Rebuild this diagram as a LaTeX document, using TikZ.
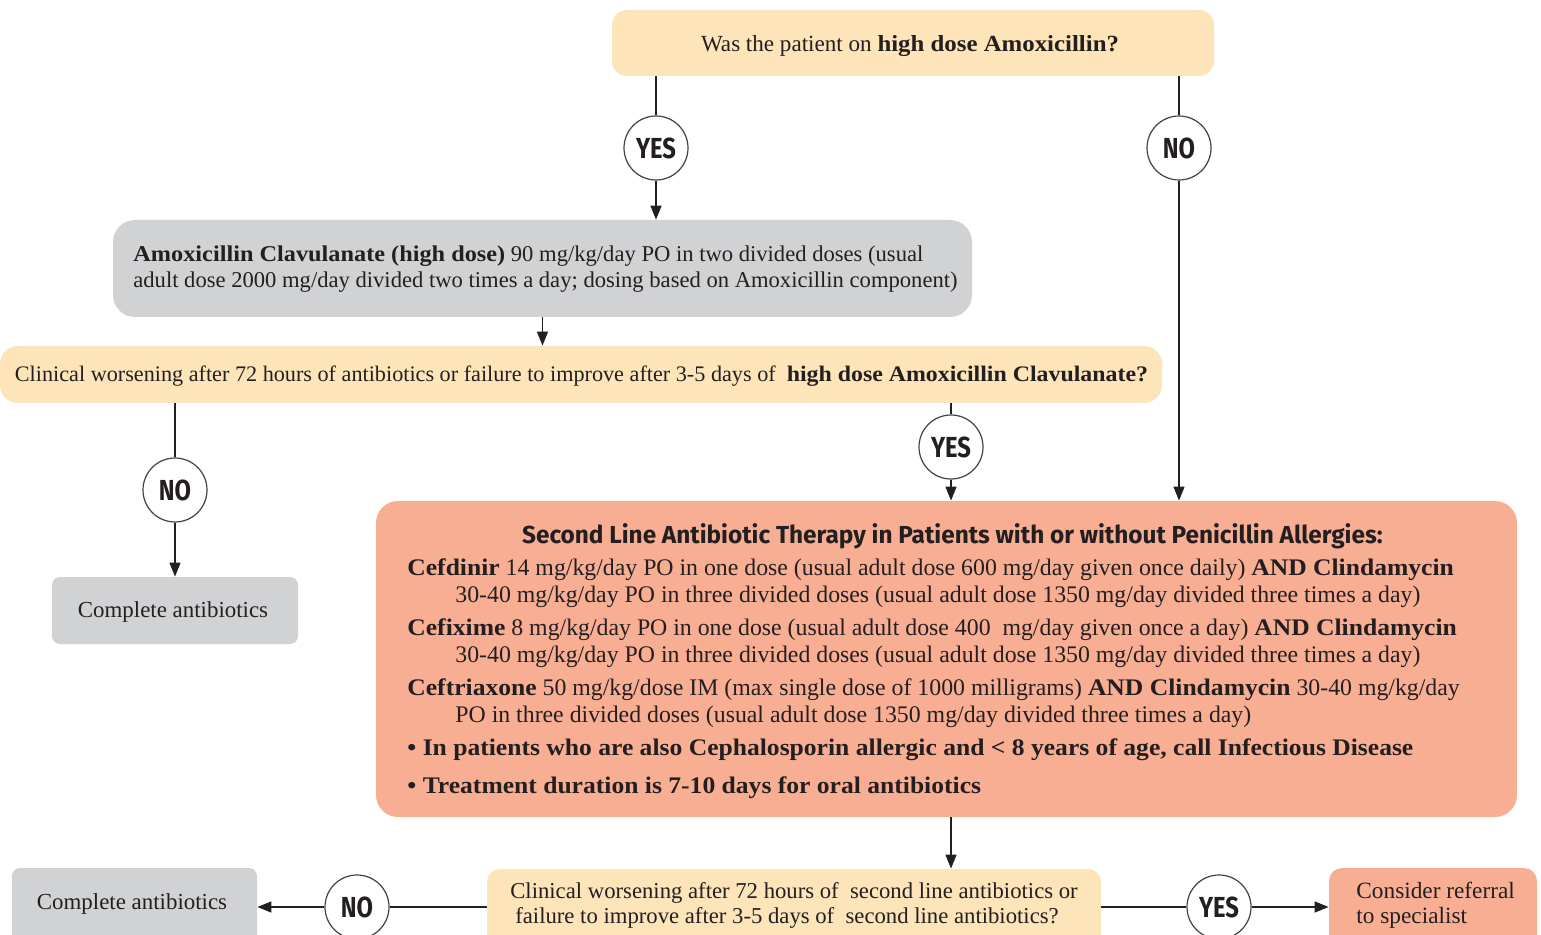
\documentclass[tikz,border=0pt]{standalone}
\usepackage{fontspec}
\setmainfont{Liberation Serif}[BoldFeatures={FakeStretch=1.075}]
\newfontfamily\ynfont[FakeStretch=0.82]{Fira Sans}
\newfontfamily\ttlfont[FakeStretch=0.99]{Fira Sans}
\usetikzlibrary{arrows.meta}
\definecolor{yel}{RGB}{253,228,185}
\definecolor{gry}{RGB}{209,210,212}
\definecolor{sal}{RGB}{248,174,147}
\definecolor{ink}{RGB}{35,31,32}
\newcommand{\fs}[2]{\fontsize{#1}{#2}\selectfont}
\begin{document}
\begin{tikzpicture}[x=0.5pt,y=-0.5pt,
  box/.style={inner sep=0pt, text=ink, font=\fs{12}{13}},
  ybox/.style={box, fill=yel},
  gbox/.style={box, fill=gry},
  sbox/.style={box, fill=sal},
  txt/.style={inner sep=0pt, text=ink, align=left},
  circ/.style={circle, draw=ink!85, line width=0.6pt, fill=white, minimum size=32pt, inner sep=0pt, text=ink,
    font=\ynfont\bfseries\fs{14.5}{14.5}},
  conn/.style={draw=ink, line width=0.7pt},
  arr/.style={conn, -{Triangle[length=7pt,width=5.5pt]}}
]
\useasboundingbox (0,0) rectangle (1541,935);
\clip (0,0) rectangle (1541,935);

% top question
\node[ybox, rounded corners=7.5pt, minimum width=301pt, minimum height=33pt] (q1) at (913,43) {};
\node[txt, font=\fs{11.55}{13}] (q1t) at (910,46) {Was the patient on \textbf{high dose Amoxicillin?}};

% amoxicillin clavulanate
\node[gbox, rounded corners=11pt, minimum width=429.5pt, minimum height=48.5pt] (amc) at (542.5,268.5) {};
\node[txt, font=\fs{11.3}{13}, anchor=west] (amct) at (133,269)
  {\textbf{Amoxicillin Clavulanate (high dose)} 90 mg/kg/day PO in two divided doses (usual\\
   adult dose 2000 mg/day divided two times a day; dosing based on Amoxicillin component)};

% second question
\node[ybox, rounded corners=9pt, minimum width=581pt, minimum height=28.5pt] (q2) at (581,374.5) {};
\node[txt, font=\fs{11.1}{13}] (q2t) at (581.5,376)
  {Clinical worsening after 72 hours of antibiotics or failure to improve after 3-5 days of~ \textbf{high dose Amoxicillin Clavulanate?}};

% complete antibiotics (left)
\node[gbox, rounded corners=4pt, minimum width=123pt, minimum height=33.5pt] (done1) at (175,610.5) {};
\node[txt, font=\fs{11.45}{13}] (done1t) at (173,612) {Complete antibiotics};

% second line therapy
\node[sbox, rounded corners=11pt, minimum width=570.5pt, minimum height=158pt] (second) at (946.5,659) {};
\node[txt, font=\fs{11.9}{13.5}, anchor=north west] (secondt) at (407,523)
  {\makebox[539.5pt][c]{\hspace*{5.5pt}\ttlfont\bfseries\fs{12.3}{13.5}Second Line Antibiotic Therapy in Patients with or without Penicillin Allergies:}\\[2.5pt]
   \textbf{Cefdinir} 14 mg/kg/day PO in one dose (usual adult dose 600 mg/day given once daily) \textbf{AND Clindamycin}\\
   \hspace*{24pt}30-40 mg/kg/day PO in three divided doses (usual adult dose 1350 mg/day divided three times a day)\\[3pt]
   \textbf{Cefixime} 8 mg/kg/day PO in one dose (usual adult dose 400~~mg/day given once a day) \textbf{AND Clindamycin}\\
   \hspace*{24pt}30-40 mg/kg/day PO in three divided doses (usual adult dose 1350 mg/day divided three times a day)\\[3pt]
   \textbf{Ceftriaxone} 50 mg/kg/dose IM (max single dose of 1000 milligrams) \textbf{AND Clindamycin} 30-40 mg/kg/day\\
   \hspace*{24pt}PO in three divided doses (usual adult dose 1350 mg/day divided three times a day)\\[3pt]
   \textbf{• In patients who are also Cephalosporin allergic and < 8 years of age, call Infectious Disease}\\[5.5pt]
   \textbf{• Treatment duration is 7-10 days for oral antibiotics}};

% bottom row boxes (cut by the lower edge)
\node[ybox, rounded corners=6.5pt, minimum width=307pt, minimum height=45pt] (q3) at (794,914) {};
\node[txt, font=\fs{11.35}{12.5}] (q3t) at (794,905)
  {Clinical worsening after 72 hours of~ second line antibiotics or\\
   \hspace*{2.5pt}failure to improve after 3-5 days of~ second line antibiotics?};
\node[gbox, rounded corners=4pt, minimum width=122.5pt, minimum height=45pt] (done2) at (134.5,913) {};
\node[txt, font=\fs{11.45}{13}] (done2t) at (132,904) {Complete antibiotics};
\node[sbox, rounded corners=6.5pt, minimum width=104pt, minimum height=45pt] (refer) at (1433,913) {};
\node[txt, anchor=west, font=\fs{11.65}{12.5}] (refert) at (1356,905) {Consider referral\\to specialist};

% decision circles
\node[circ] (yes1) at (656,148) {YES};
\node[circ] (no1) at (1179,148) {NO};
\node[circ] (no2) at (175,490) {NO};
\node[circ] (yes2) at (951,447) {YES};
\node[circ] (no3) at (357,907) {NO};
\node[circ] (yes3) at (1219,907) {YES};

% connectors
\draw[conn] (yes1 |- q1.south) -- (yes1.north);
\draw[arr] (yes1.south) -- (yes1 |- amc.north);
\draw[conn] (no1 |- q1.south) -- (no1.north);
\draw[arr] (no1.south) -- (no1 |- second.north);
\draw[arr] (amc.south) -- (amc.south |- q2.north);
\draw[conn] (no2 |- q2.south) -- (no2.north);
\draw[arr] (no2.south) -- (done1.north);
\draw[conn] (yes2 |- q2.south) -- (yes2.north);
\draw[arr] (yes2.south) -- (yes2 |- second.north);
\draw[arr] (yes2 |- second.south) -- (yes2 |- q3.north);
\draw[conn] (q3.west |- no3) -- (no3.east);
\draw[arr] (no3.west) -- (done2.east |- no3);
\draw[conn] (q3.east |- yes3) -- (yes3.west);
\draw[arr] (yes3.east) -- (refer.west |- yes3);
\end{tikzpicture}
\end{document}
